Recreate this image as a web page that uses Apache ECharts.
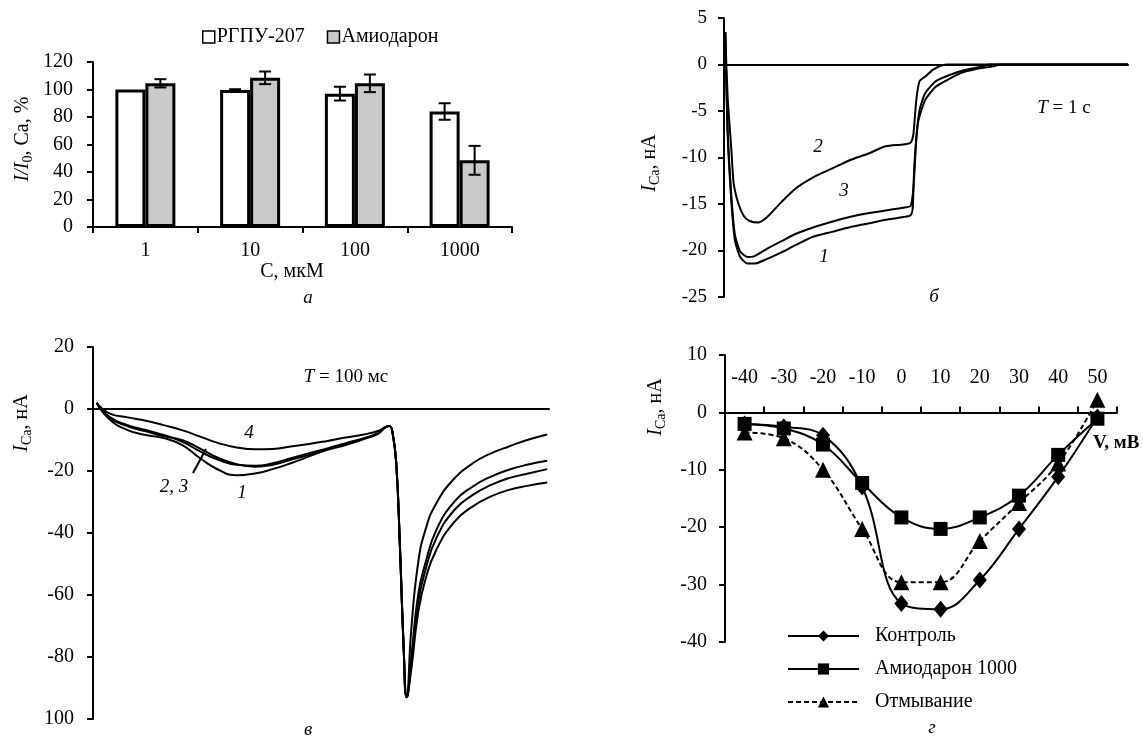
<!DOCTYPE html>
<html><head><meta charset="utf-8">
<script src="https://cdn.jsdelivr.net/npm/echarts@6/dist/echarts.min.js"></script>
<style>html,body{margin:0;padding:0;background:#fff}#c{width:1143px;height:737px}</style>
</head><body><div id="c"></div>
<script>
const FONT = '"Liberation Serif","Times New Roman",serif';

// ---- Panel а (bars) ----
const concCategories = ['1', '10', '100', '1000'];
const rgpuValues = [100, 99.6, 97, 84];
const rgpuErrors = [0, 0.6, 5, 6];
const amioValues = [104.5, 108.5, 104.5, 48.5];
const amioErrors = [3, 4.6, 6.4, 10.5];

// ---- Panel б (T = 1 c) ----
const b1x = [0.3, 0.9, 1.8, 2.7, 4.0, 5.8, 7.6, 10.7, 14.2, 17.8, 22.2, 26.7, 31.1, 35.6, 40.0, 44.4, 46.2, 46.7, 47.1, 48.0, 49.8, 52.4, 55.1, 58.7, 62.2, 66.7, 68.4, 100];
const b1y = [3.5, -7.4, -14.6, -18.9, -20.7, -21.4, -21.4, -20.9, -20.2, -19.4, -18.5, -18.0, -17.5, -17.1, -16.7, -16.4, -16.2, -15.5, -11.0, -6.3, -3.8, -2.4, -1.7, -0.9, -0.5, -0.2, 0, 0];
const b2x = [0.3, 0.9, 1.8, 2.4, 3.6, 4.9, 6.2, 8.4, 10.7, 14.2, 17.8, 22.2, 26.7, 31.1, 35.6, 40.0, 44.4, 46.2, 46.9, 47.6, 48.4, 49.8, 51.6, 53.3, 55.1, 100];
const b2y = [3.5, -3.5, -9.0, -12.8, -15.0, -16.3, -16.8, -17.0, -16.4, -14.8, -13.3, -12.1, -11.2, -10.3, -9.6, -8.8, -8.6, -8.4, -7.4, -3.8, -1.8, -1.3, -0.6, -0.2, 0, 0];
const b3x = [0.3, 0.9, 1.8, 2.7, 4.0, 5.8, 7.6, 10.7, 14.2, 17.8, 22.2, 26.7, 31.1, 35.6, 40.0, 44.4, 46.2, 46.9, 47.6, 48.4, 49.8, 52.4, 56.0, 59.6, 64.0, 65.8, 100];
const b3y = [3.5, -7.0, -14.0, -18.3, -20.1, -20.7, -20.6, -19.8, -19.0, -18.2, -17.5, -16.9, -16.4, -16.0, -15.7, -15.4, -15.2, -13.2, -8.0, -4.9, -3.1, -1.8, -1.1, -0.6, -0.2, 0, 0];

// ---- Panel в (T = 100 мс) ----
const vPreX = [0.8, 3.6, 7.6, 11.6, 15.5, 19.5, 23.5, 27.5, 31.5, 35.5, 39.4, 43.4, 47.4, 51.4, 55.4, 59.4, 62.5, 64.1];
const vSpikeX = [65.0, 65.7, 66.5, 67.3, 68.1, 68.8];
const vSpikeY = [-5.5, -7.8, -17.5, -44, -76, -93];
const vPostX = [69.8, 71.3, 72.9, 75.3, 79.3, 83.3, 87.3, 91.2, 95.2, 99.6];
const v1Pre = [2, -3.3, -6.8, -8.4, -9.4, -11.6, -15.9, -19.6, -21.4, -20.8, -19.4, -17.5, -15.3, -13.2, -11.6, -9.7, -8.0, -5.9];
const v2Pre = [2, -2.5, -5.2, -6.8, -8.4, -10.5, -13.7, -16.4, -18.0, -18.3, -17.5, -15.9, -14.3, -12.7, -11.0, -9.4, -7.8, -5.9];
const v3Pre = [2, -2.8, -5.6, -7.2, -8.8, -10.0, -12.8, -15.8, -17.8, -18.6, -18.0, -16.4, -14.8, -13.0, -11.2, -9.6, -7.9, -5.9];
const v4Pre = [2, -1.4, -2.7, -3.8, -5.2, -6.8, -8.9, -11.0, -12.4, -13.0, -12.9, -12.1, -11.3, -10.3, -9.2, -8.2, -7.1, -5.9];
const v1Post = [-84, -65.8, -55, -45.4, -36.3, -31.4, -28.2, -26.1, -24.8, -23.7];
const v2Post = [-80, -60, -49.7, -39, -29.8, -25, -21.8, -19.6, -18, -16.7];
const v3Post = [-82, -62.5, -52, -41.6, -32.5, -27.7, -24.5, -22.3, -20.9, -19.4];
const v4Post = [-71, -49.7, -39, -30.4, -22.3, -17.5, -14.3, -12.1, -10, -8.2];
const vYTickLabels = {'20': '20', '0': '0', '-20': '-20', '-40': '-40', '-60': '-60', '-80': '-80', '-100': '100'};

// ---- Panel г (I-V) ----
const voltCategories = ['-40', '-30', '-20', '-10', '0', '10', '20', '30', '40', '50'];
const controlValues = [-2, -2.5, -4, -13, -33.3, -34.3, -29.2, -20.3, -11.2, -0.8];
const amio1000Values = [-2, -2.8, -5.6, -12.3, -18.3, -20.3, -18.3, -14.5, -7.4, -1.1];
const washValues = [-3.5, -4.5, -10, -20.3, -29.6, -29.6, -22.4, -15.8, -8.9, 2.2];

const zip = (xs, ys) => xs.map((x, i) => [x, ys[i]]);
const vCurve = (pre, post) => zip(vPreX, pre).concat(zip(vSpikeX, vSpikeY), zip(vPostX, post));

const chart = echarts.init(document.getElementById('c'), null, {renderer: 'canvas'});
const BW = 30;
const black = '#000';
const axisL = {show: true, onZero: false, lineStyle: {color: black, width: 2}};
const tickL = {show: true, inside: false, length: 6, lineStyle: {color: black, width: 2}};
const lblS = (fs) => ({color: black, fontFamily: FONT, fontSize: fs});

function errRender(offset) {
  return function (params, api) {
    const i = api.value(0), v = api.value(1), e = api.value(2);
    if (!e) return null;
    const c = api.coord([i, v]);
    const hi = api.coord([i, v + e]);
    const lo = api.coord([i, v - e]);
    const x = c[0] + offset;
    const st = {stroke: black, lineWidth: 2};
    return {type: 'group', children: [
      {type: 'line', shape: {x1: x, y1: hi[1], x2: x, y2: lo[1]}, style: st},
      {type: 'line', shape: {x1: x - 6, y1: hi[1], x2: x + 6, y2: hi[1]}, style: st},
      {type: 'line', shape: {x1: x - 6, y1: lo[1], x2: x + 6, y2: lo[1]}, style: st}
    ]};
  };
}

const yNameRich = {
  i: {fontFamily: FONT, fontSize: 20, fontStyle: 'italic', color: black, lineHeight: 24},
  n: {fontFamily: FONT, fontSize: 20, color: black, lineHeight: 24},
  sub: {fontFamily: FONT, fontSize: 14, color: black, verticalAlign: 'bottom', lineHeight: 14}
};
function vText(x, y, text) {
  return {type: 'text', x: x, y: y, rotation: Math.PI / 2,
    style: {text: text, rich: yNameRich, align: 'center', verticalAlign: 'middle'}};
}
function txt(x, y, text, extra) {
  return {type: 'text', x: x, y: y, style: Object.assign({text: text, fontFamily: FONT, fontSize: 19, fill: black, align: 'center', verticalAlign: 'middle'}, extra || {})};
}
const lineSmooth = {symbol: 'none', lineStyle: {color: black, width: 2}};

const option = {
  animation: false,
  backgroundColor: '#fff',
  grid: [
    {left: 93, top: 62, width: 419, height: 165},
    {left: 724, top: 18, width: 404, height: 279},
    {left: 93, top: 347, width: 456, height: 372},
    {left: 725, top: 355, width: 392, height: 287}
  ],
  legend: [
    {data: ['РГПУ-207', 'Амиодарон'], left: 197, top: 22, itemWidth: 12, itemHeight: 12, itemGap: 22,
      icon: 'rect', itemStyle: {borderWidth: 1.5, borderColor: black},
      textStyle: {fontFamily: FONT, fontSize: 20, color: black, padding: [0, 0, 0, -3]}},
    {data: ['Контроль', 'Амиодарон 1000', 'Отмывание'], orient: 'vertical', left: 782, top: 621,
      itemWidth: 71, itemHeight: 14, itemGap: 13,
      textStyle: {fontFamily: FONT, fontSize: 20, color: black, padding: [0, 0, 0, 11]}}
  ],
  xAxis: [
    {gridIndex: 0, type: 'category', data: concCategories, axisLine: {show: true, lineStyle: {color: black, width: 2}},
      axisTick: {show: true, length: 6, lineStyle: {color: black, width: 2}}, axisLabel: Object.assign(lblS(20), {margin: 14})},
    {gridIndex: 1, type: 'value', min: 0, max: 100, axisLine: {show: true, onZero: true, lineStyle: {color: black, width: 2}},
      axisTick: {show: false}, axisLabel: {show: false}, splitLine: {show: false}},
    {gridIndex: 2, type: 'value', min: 0, max: 100, axisLine: {show: true, onZero: true, lineStyle: {color: black, width: 2}},
      axisTick: {show: false}, axisLabel: {show: false}, splitLine: {show: false}},
    {gridIndex: 3, type: 'category', data: voltCategories, boundaryGap: true,
      axisLine: {show: true, onZero: true, lineStyle: {color: black, width: 2}},
      axisTick: {show: true, inside: true, length: 6, lineStyle: {color: black, width: 2}},
      axisLabel: {show: false}},
    {gridIndex: 3, type: 'category', data: voltCategories, boundaryGap: true, position: 'top', offset: -57,
      axisLine: {show: false, onZero: false}, axisTick: {show: false},
      axisLabel: Object.assign(lblS(20), {margin: 24})}
  ],
  yAxis: [
    {gridIndex: 0, type: 'value', min: 0, max: 120, interval: 20, axisLine: axisL, axisTick: tickL,
      axisLabel: Object.assign(lblS(20), {margin: 20}), splitLine: {show: false}},
    {gridIndex: 1, type: 'value', min: -25, max: 5, interval: 5, axisLine: axisL, axisTick: tickL,
      axisLabel: Object.assign(lblS(19), {margin: 17}), splitLine: {show: false}},
    {gridIndex: 2, type: 'value', min: -100, max: 20, interval: 20, axisLine: axisL, axisTick: tickL,
      axisLabel: Object.assign(lblS(20), {margin: 19, formatter: v => vYTickLabels[String(v)]}), splitLine: {show: false}},
    {gridIndex: 3, type: 'value', min: -40, max: 10, interval: 10, axisLine: axisL, axisTick: tickL,
      axisLabel: Object.assign(lblS(20), {margin: 18}), splitLine: {show: false}}
  ],
  series: [
    {name: 'РГПУ-207', type: 'bar', xAxisIndex: 0, yAxisIndex: 0, data: rgpuValues, barWidth: BW, barGap: '0%',
      itemStyle: {color: '#ffffff', borderColor: black, borderWidth: 3}},
    {name: 'Амиодарон', type: 'bar', xAxisIndex: 0, yAxisIndex: 0, data: amioValues, barWidth: BW, barGap: '0%',
      itemStyle: {color: '#c9c9c9', borderColor: black, borderWidth: 3}},
    {type: 'custom', xAxisIndex: 0, yAxisIndex: 0, z: 5, renderItem: errRender(-BW / 2),
      data: rgpuValues.map((v, i) => [i, v, rgpuErrors[i]])},
    {type: 'custom', xAxisIndex: 0, yAxisIndex: 0, z: 5, renderItem: errRender(BW / 2),
      data: amioValues.map((v, i) => [i, v, amioErrors[i]])},

    Object.assign({name: 'б1', type: 'line', xAxisIndex: 1, yAxisIndex: 1, data: zip(b1x, b1y), smooth: 0.2}, lineSmooth),
    Object.assign({name: 'б2', type: 'line', xAxisIndex: 1, yAxisIndex: 1, data: zip(b2x, b2y), smooth: 0.2}, lineSmooth),
    Object.assign({name: 'б3', type: 'line', xAxisIndex: 1, yAxisIndex: 1, data: zip(b3x, b3y), smooth: 0.2}, lineSmooth),

    Object.assign({name: 'в1', type: 'line', xAxisIndex: 2, yAxisIndex: 2, data: vCurve(v1Pre, v1Post), smooth: 0.5}, lineSmooth),
    Object.assign({name: 'в2', type: 'line', xAxisIndex: 2, yAxisIndex: 2, data: vCurve(v2Pre, v2Post), smooth: 0.5}, lineSmooth),
    Object.assign({name: 'в3', type: 'line', xAxisIndex: 2, yAxisIndex: 2, data: vCurve(v3Pre, v3Post), smooth: 0.5}, lineSmooth),
    Object.assign({name: 'в4', type: 'line', xAxisIndex: 2, yAxisIndex: 2, data: vCurve(v4Pre, v4Post), smooth: 0.5}, lineSmooth),

    {name: 'Контроль', type: 'line', xAxisIndex: 3, yAxisIndex: 3, data: controlValues, smooth: 0.4,
      symbol: 'diamond', symbolSize: [14, 17], itemStyle: {color: black}, lineStyle: {color: black, width: 2}},
    {name: 'Амиодарон 1000', type: 'line', xAxisIndex: 3, yAxisIndex: 3, data: amio1000Values, smooth: 0.4,
      symbol: 'rect', symbolSize: 14, itemStyle: {color: black}, lineStyle: {color: black, width: 2}},
    {name: 'Отмывание', type: 'line', xAxisIndex: 3, yAxisIndex: 3, data: washValues, smooth: 0.4,
      symbol: 'triangle', symbolSize: 16, itemStyle: {color: black}, lineStyle: {color: black, width: 2, type: [5, 3]}}
  ],
  graphic: [
    vText(23, 139, '{i|I/I}{sub|0}{n|, Ca, %}'),
    txt(292, 272, 'C, мкМ', {fontSize: 20}),
    txt(308, 298, 'а', {fontStyle: 'italic', fontSize: 19}),

    vText(650, 163, '{i|I}{sub|Ca}{n|, нА}'),
    {type: 'text', x: 1064, y: 108, style: {text: '{i|T}{n| = 1 c}', align: 'center', verticalAlign: 'middle',
      rich: {i: {fontFamily: FONT, fontSize: 19, fontStyle: 'italic', fill: black}, n: {fontFamily: FONT, fontSize: 19, fill: black}}}},
    txt(818, 147, '2', {fontStyle: 'italic'}),
    txt(844, 191, '3', {fontStyle: 'italic'}),
    txt(824, 257, '1', {fontStyle: 'italic'}),
    txt(934, 297, 'б', {fontStyle: 'italic'}),

    vText(22, 423, '{i|I}{sub|Ca}{n|, нА}'),
    {type: 'text', x: 346, y: 377, style: {text: '{i|T}{n| = 100 мс}', align: 'center', verticalAlign: 'middle',
      rich: {i: {fontFamily: FONT, fontSize: 19, fontStyle: 'italic', fill: black}, n: {fontFamily: FONT, fontSize: 19, fill: black}}}},
    txt(249, 433, '4', {fontStyle: 'italic'}),
    txt(174, 487, '2, 3', {fontStyle: 'italic'}),
    txt(242, 493, '1', {fontStyle: 'italic'}),
    {type: 'line', shape: {x1: 193, y1: 473, x2: 206, y2: 449}, style: {stroke: black, lineWidth: 2}},
    txt(308, 730, 'в', {fontStyle: 'italic'}),

    vText(656, 407, '{i|I}{sub|Ca}{n|, нА}'),
    txt(1093, 443, 'V, мВ', {fontWeight: 'bold', align: 'left', fontSize: 19}),
    txt(932, 728, 'г', {fontStyle: 'italic'})
  ]
};
chart.setOption(option);
</script>
</body></html>
